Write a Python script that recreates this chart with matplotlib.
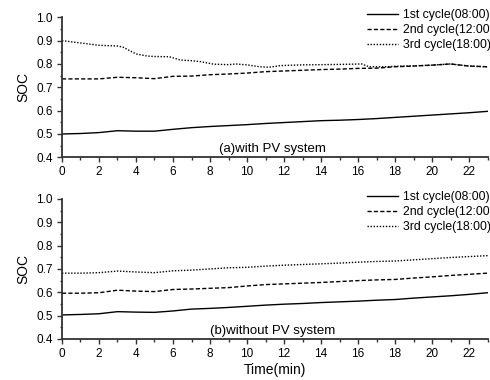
import matplotlib
matplotlib.use('Agg')
import matplotlib.pyplot as plt
from matplotlib.ticker import MultipleLocator

plt.rcParams['font.family'] = ['Liberation Sans', 'DejaVu Sans']

# time axis (min)
t_full = list(range(24))

# (a) with PV system
a_1st = [0.500, 0.502, 0.506, 0.514, 0.512, 0.512, 0.520, 0.527, 0.532, 0.536, 0.540, 0.545,
         0.549, 0.553, 0.557, 0.559, 0.562, 0.566, 0.571, 0.576, 0.581, 0.586, 0.591, 0.597]
a_2nd = [0.736, 0.736, 0.736, 0.743, 0.741, 0.737, 0.747, 0.748, 0.754, 0.757, 0.761, 0.767,
         0.770, 0.773, 0.776, 0.778, 0.781, 0.782, 0.788, 0.791, 0.795, 0.800, 0.791, 0.788]
t_a3 = [0, 1, 2, 3, 3.3, 4, 4.6, 5, 5.8, 6.4, 7, 7.5, 8.2, 9, 9.4, 10, 10.7, 11.2, 11.8,
        12.9, 14, 15, 16.2, 16.6, 17.5, 18, 19, 20, 21, 22, 23]
a_3rd = [0.900, 0.890, 0.880, 0.877, 0.872, 0.843, 0.834, 0.832, 0.831, 0.817, 0.814, 0.810,
         0.799, 0.797, 0.800, 0.796, 0.788, 0.786, 0.793, 0.796, 0.797, 0.798, 0.800, 0.788,
         0.788, 0.790, 0.792, 0.795, 0.800, 0.791, 0.788]

# (b) without PV system
b_1st = [0.503, 0.505, 0.508, 0.517, 0.515, 0.514, 0.520, 0.528, 0.531, 0.535, 0.540, 0.545,
         0.549, 0.552, 0.556, 0.559, 0.562, 0.566, 0.569, 0.575, 0.580, 0.585, 0.591, 0.598]
b_2nd = [0.596, 0.596, 0.598, 0.609, 0.605, 0.603, 0.612, 0.614, 0.617, 0.620, 0.627, 0.633,
         0.636, 0.639, 0.642, 0.646, 0.650, 0.653, 0.655, 0.661, 0.666, 0.672, 0.677, 0.682]
b_3rd = [0.682, 0.682, 0.684, 0.691, 0.687, 0.684, 0.692, 0.695, 0.700, 0.705, 0.707, 0.712,
         0.716, 0.719, 0.722, 0.725, 0.729, 0.732, 0.734, 0.739, 0.744, 0.749, 0.753, 0.757]

labels = ['1st cycle(08:00)', '2nd cycle(12:00)', '3rd cycle(18:00)']
titles = ['(a)with PV system', '(b)without PV system']

fig = plt.figure(figsize=(4.9, 3.8), dpi=100)
ax_a = fig.add_axes([0.1265, 0.586, 0.8685, 0.3685])
ax_b = fig.add_axes([0.1265, 0.108, 0.8685, 0.3685])

panels = [
    (ax_a, [(t_full, a_1st), (t_full, a_2nd), (t_a3, a_3rd)], titles[0], 1.06),
    (ax_b, [(t_full, b_1st), (t_full, b_2nd), (t_full, b_3rd)], titles[1], 1.055),
]
styles = [dict(linestyle='-'), dict(linestyle=(0, (3, 1.6))), dict(linestyle=(0, (1, 1.2)))]

for ax, series, title, leg_y in panels:
    for (tt, yy), st, lab in zip(series, styles, labels):
        ax.plot(tt, yy, color='black', linewidth=1.0, label=lab, **st)
    ax.set_xlim(0, 23)
    ax.set_ylim(0.4, 1.0)
    ax.xaxis.set_major_locator(MultipleLocator(2))
    ax.xaxis.set_minor_locator(MultipleLocator(1))
    ax.yaxis.set_major_locator(MultipleLocator(0.1))
    ax.yaxis.set_minor_locator(MultipleLocator(0.05))
    ax.yaxis.set_major_formatter(plt.FormatStrFormatter('%.1f'))
    ax.spines['top'].set_visible(False)
    ax.spines['right'].set_visible(False)
    for s in ['left', 'bottom']:
        ax.spines[s].set_linewidth(1.3)
        ax.spines[s].set_color('#333333')
    ax.tick_params(which='major', direction='out', length=3.6, width=1.0,
                   labelsize=8.5, pad=3, color='#333333')
    ax.tick_params(which='minor', direction='out', length=1.8, width=1.0, color='#333333')
    ax.set_ylabel('SOC', fontsize=10, labelpad=4)
    ax.text(0.494, 0.035, title, transform=ax.transAxes, ha='center', va='baseline',
            fontsize=9.5)
    ax.legend(loc='upper left', bbox_to_anchor=(0.717, leg_y), frameon=False,
              fontsize=8.8, handlelength=2.5, handletextpad=0.4, labelspacing=0.25,
              borderpad=0, borderaxespad=0)

ax_b.set_xlabel('Time(min)', fontsize=10, labelpad=2)

fig.savefig('out.png', dpi=100)
